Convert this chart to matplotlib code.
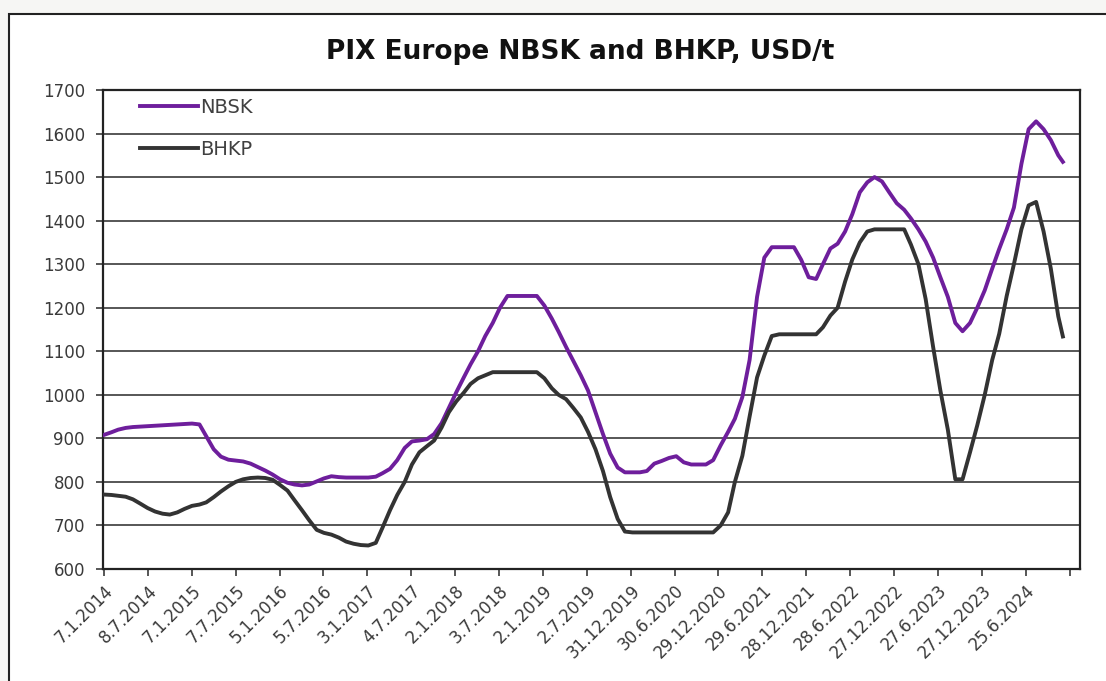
import numpy as np
import pandas as pd
import matplotlib
matplotlib.use("Agg")
import matplotlib.pyplot as plt
from matplotlib.patches import Rectangle

# monthly readings (7th of each month, Jan 2014 .. Nov 2024) + last weekly point
months = list(pd.date_range("2014-01-01", periods=131, freq="MS") + pd.Timedelta(days=6))
dates = months + [pd.Timestamp("2024-11-26")]

nbsk = [908, 914, 920, 924, 926, 927, 928, 929, 930, 931, 932, 933,
        934, 932, 905, 875, 858, 851, 849, 847, 842, 834, 826, 817,
        806, 798, 794, 792, 794, 801, 808, 813, 811, 810, 810, 810,
        810, 812, 820, 830, 850, 878, 893, 895, 898, 910, 935, 970,
        1006, 1040, 1070, 1100, 1135, 1165, 1200, 1227, 1227, 1227, 1227, 1227,
        1205, 1175, 1145, 1110, 1078, 1045, 1010, 960, 910, 865, 833, 822,
        822, 822, 825, 842, 848, 855, 859, 845, 840, 840, 840, 850,
        884, 915, 945, 995, 1080, 1225, 1315, 1339, 1339, 1339, 1339, 1310,
        1270, 1266, 1300, 1336, 1347, 1375, 1415, 1465, 1488, 1500, 1490, 1465,
        1440, 1425, 1405, 1380, 1352, 1315, 1270, 1225, 1165, 1146, 1165, 1200,
        1240, 1290, 1335, 1380, 1430, 1530, 1610, 1628, 1610, 1585, 1550,
        1535]

bhkp = [771, 770, 768, 766, 760, 750, 740, 732, 727, 725, 730, 738,
        745, 748, 753, 765, 778, 790, 800, 806, 809, 810, 809, 805,
        793, 780, 758, 735, 712, 690, 683, 679, 672, 663, 658, 655,
        654, 660, 695, 735, 770, 800, 840, 868, 882, 895, 925, 960,
        985, 1005, 1025, 1038, 1045, 1052, 1052, 1052, 1052, 1052, 1052, 1052,
        1038, 1015, 1000, 990, 970, 948, 915, 875, 825, 765, 715, 686,
        684, 684, 684, 684, 684, 684, 684, 684, 684, 684, 684, 684,
        700, 730, 800, 860, 950, 1040, 1090, 1135, 1139, 1139, 1139, 1139,
        1139, 1139, 1155, 1182, 1200, 1260, 1311, 1350, 1375, 1380, 1380, 1380,
        1380, 1380, 1345, 1300, 1220, 1110, 1010, 920, 806, 806, 868, 930,
        1000, 1080, 1140, 1227, 1300, 1380, 1435, 1443, 1375, 1290, 1180,
        1134]

tick_labels = ["7.1.2014", "8.7.2014", "7.1.2015", "7.7.2015", "5.1.2016", "5.7.2016",
               "3.1.2017", "4.7.2017", "2.1.2018", "3.7.2018", "2.1.2019", "2.7.2019",
               "31.12.2019", "30.6.2020", "29.12.2020", "29.6.2021", "28.12.2021",
               "28.6.2022", "27.12.2022", "27.6.2023", "27.12.2023", "25.6.2024"]
tick_dates = list(pd.to_datetime(tick_labels, format="%d.%m.%Y")) + [pd.Timestamp("2024-12-24")]

W, H = 1106, 681
fig = plt.figure(figsize=(W / 100, H / 100), dpi=100, facecolor="#f6f6f4")
frame = Rectangle((9 / W, -0.1), 1.2, 1.1 - 14 / H, transform=fig.transFigure,
                  facecolor="white", edgecolor="#222222", lw=1.5, zorder=-5)
fig.patches.append(frame)

ax = fig.add_axes([103 / W, 1 - 569 / H, (1080 - 103) / W, (569 - 90) / H])
ax.set_zorder(5)
ax.set_facecolor("white")

ax.plot(dates, nbsk, color="#6e1e9c", lw=2.8, label="NBSK", zorder=3)
ax.plot(dates, bhkp, color="#333333", lw=2.8, label="BHKP", zorder=3)

ax.set_ylim(600, 1700)
ax.set_yticks(np.arange(600, 1701, 100))
ax.set_xlim(pd.Timestamp("2014-01-03"), pd.Timestamp("2025-02-05"))
ax.set_xticks(tick_dates)
ax.set_xticklabels(tick_labels + [""], rotation=45, ha="right", rotation_mode="anchor")

ax.yaxis.grid(True, color="#3a3a3a", lw=1.2)
ax.set_axisbelow(True)
for s in ax.spines.values():
    s.set_color("#222222")
    s.set_linewidth(1.6)
ax.tick_params(axis="both", labelsize=12, colors="#3a3a3a", length=5, width=1.2)
ax.tick_params(axis="x", pad=4)
ax.tick_params(axis="y", pad=8)

ax.set_title("PIX Europe NBSK and BHKP, USD/t", fontsize=19, fontweight="bold",
             color="#111111", pad=22, x=0.488)

leg = ax.legend(loc="upper left", bbox_to_anchor=(0.02, 1.02), frameon=False,
                fontsize=14, handlelength=3.0, handletextpad=0.1, labelspacing=1.2)
for t in leg.get_texts():
    t.set_color("#404040")

fig.savefig("out.png", dpi=100, facecolor=fig.get_facecolor())
